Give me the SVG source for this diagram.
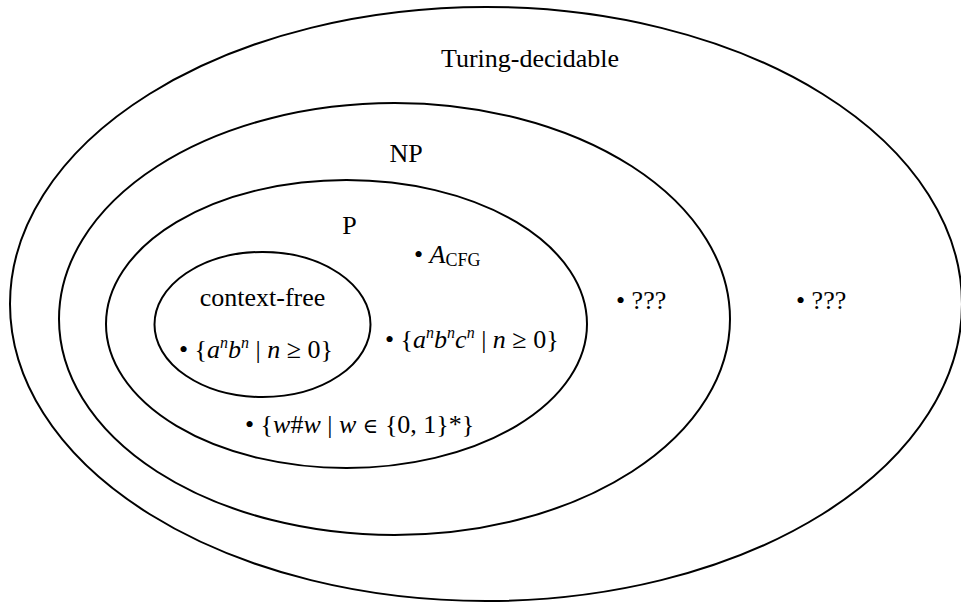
<svg xmlns="http://www.w3.org/2000/svg" width="961" height="603" viewBox="0 0 961 603">
<style>
  .set { fill: none; stroke: #000; stroke-width: 2; }
  text { font-family: "Liberation Serif", "Times New Roman", serif; font-size: 26px; fill: #000; }
  .lbl { text-anchor: middle; }
  .it { font-style: italic; }
  .sup { font-size: 16px; font-style: italic; }
  .sub { font-size: 18px; }
  .sym { font-family: "DejaVu Serif", "Liberation Serif", serif; font-size: 21px; }
</style>
<rect width="961" height="603" fill="#fff"/>
<g id="turing-decidable">
  <ellipse class="set" cx="486" cy="304" rx="476" ry="297"/>
  <text class="lbl" x="530" y="67">Turing-decidable</text>
</g>
<g id="np">
  <ellipse class="set" cx="394.5" cy="319" rx="335.5" ry="216"/>
  <text class="lbl" x="406" y="162">NP</text>
</g>
<g id="p">
  <ellipse class="set" cx="346.5" cy="324" rx="240.5" ry="144"/>
  <text class="lbl" x="349.5" y="234">P</text>
</g>
<g id="context-free">
  <ellipse class="set" cx="262.5" cy="324.5" rx="108" ry="72.5"/>
  <text class="lbl" x="262.5" y="306">context-free</text>
</g>
<g id="item-anbn">
  <text x="179" y="358">• {<tspan class="it">a</tspan><tspan class="sup" dy="-10">n</tspan><tspan class="it" dy="10">b</tspan><tspan class="sup" dy="-10">n</tspan><tspan dy="10"> | </tspan><tspan class="it">n</tspan> ≥ 0}</text>
</g>
<g id="item-acfg">
  <text x="414" y="263">• <tspan class="it">A</tspan><tspan class="sub" dy="3">CFG</tspan></text>
</g>
<g id="item-anbncn">
  <text x="385" y="348">• {<tspan class="it">a</tspan><tspan class="sup" dy="-10">n</tspan><tspan class="it" dy="10">b</tspan><tspan class="sup" dy="-10">n</tspan><tspan class="it" dy="10">c</tspan><tspan class="sup" dy="-10">n</tspan><tspan dy="10"> | </tspan><tspan class="it">n</tspan> ≥ 0}</text>
</g>
<g id="item-wsharpw">
  <text x="245" y="433">• {<tspan class="it">w</tspan>#<tspan class="it">w</tspan> | <tspan class="it">w</tspan> <tspan class="sym">∈</tspan> {0, 1}*}</text>
</g>
<g id="item-np-unknown">
  <text x="616" y="309">• ???</text>
</g>
<g id="item-td-unknown">
  <text x="796" y="309">• ???</text>
</g>
<g id="connectors"></g>
</svg>
